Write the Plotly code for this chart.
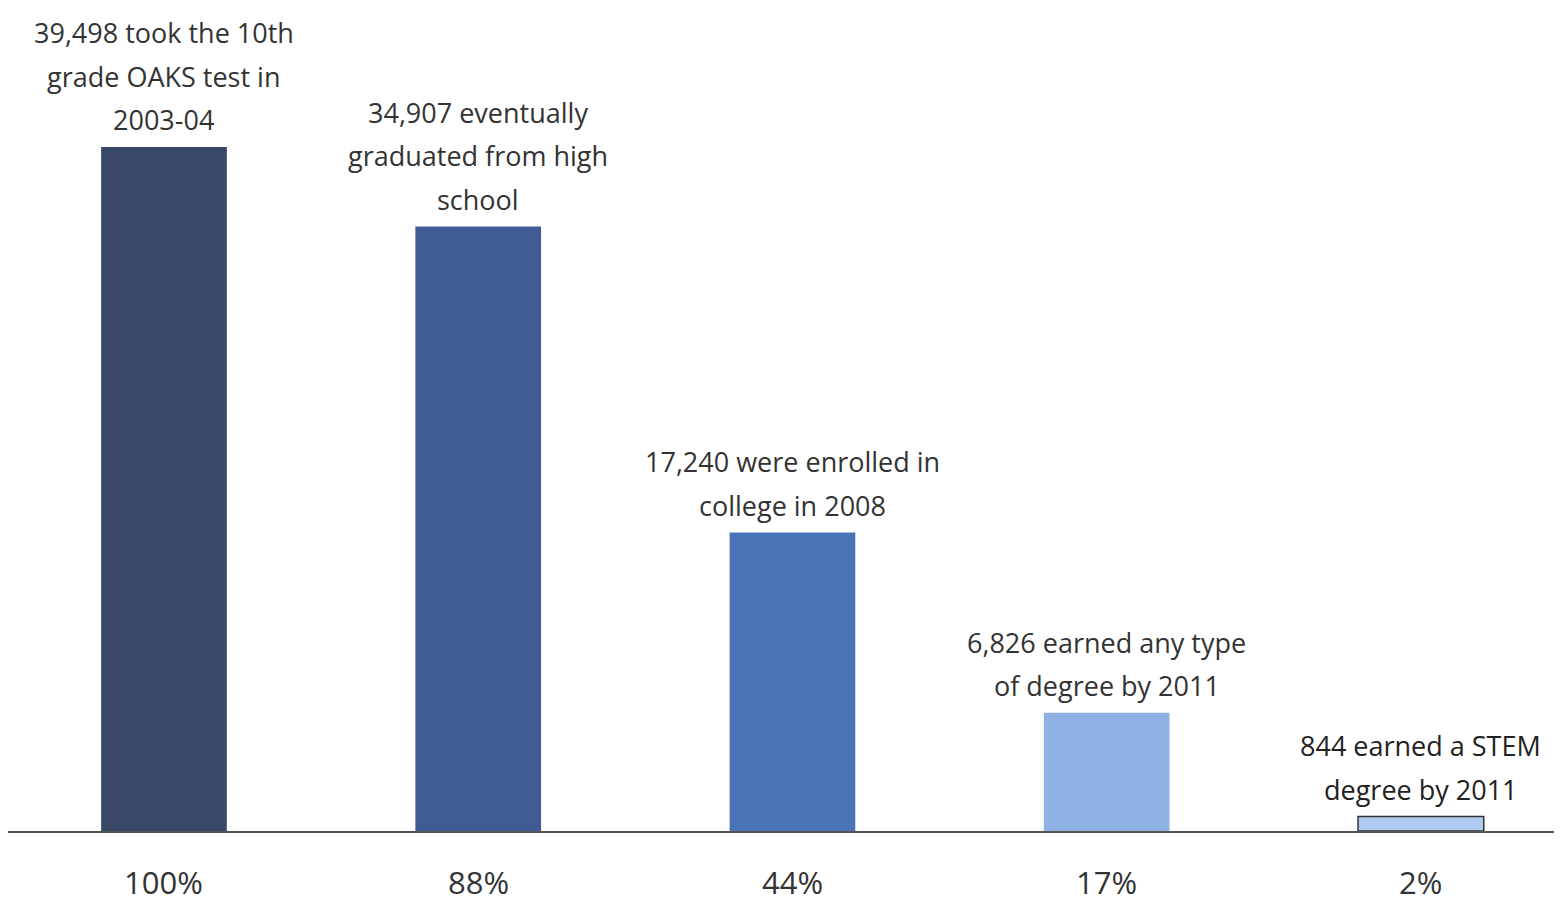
import plotly.graph_objects as go

stages = ["10th grade OAKS", "HS graduate", "College 2008", "Any degree 2011", "STEM degree 2011"]
counts = [39498, 34907, 17240, 6826, 844]
percent_labels = ["100%", "88%", "44%", "17%", "2%"]
label_lines = [
    ["39,498 took the 10th", "grade OAKS test in", "2003-04"],
    ["34,907 eventually", "graduated from high", "school"],
    ["17,240 were enrolled in", "college in 2008"],
    ["6,826 earned any type", "of degree by 2011"],
    ["844 earned a STEM", "degree by 2011"],
]

bar_colors = ["#394866", "#405a94", "#4b74b8", "#8db2e3", "#afcbf0"]
line_widths = [0, 0, 0, 0, 1.5]
text_color = "#333333"
font_family = "Open Sans, DejaVu Sans, sans-serif"

fig = go.Figure()
fig.add_trace(go.Bar(
    x=stages, y=counts, width=0.4,
    marker=dict(color=bar_colors, line=dict(color="#333333", width=line_widths)),
    hoverinfo="skip",
))

annotations = []
line_step = 43.5
gap = 27
for i, (stage, c, lines) in enumerate(zip(stages, counts, label_lines)):
    n = len(lines)
    last = i == len(stages) - 1
    for j, ln in enumerate(lines):
        annotations.append(dict(
            x=stage, y=c, xref="x", yref="y",
            text=ln, showarrow=False, yanchor="middle", xanchor="center",
            yshift=gap + (n - 1 - j) * line_step,
            font=dict(family=font_family, size=27, color="#222222" if last else text_color),
        ))
    annotations.append(dict(
        x=stage, y=0, xref="x", yref="paper",
        text=percent_labels[i], showarrow=False, yanchor="middle", xanchor="center",
        yshift=-51,
        font=dict(family=font_family, size=31, color=text_color),
    ))

fig.update_layout(
    width=1562, height=904,
    margin=dict(l=0, r=8, t=0, b=81, autoexpand=False),
    paper_bgcolor="white", plot_bgcolor="white",
    showlegend=False,
    annotations=annotations,
    xaxis=dict(range=[-0.4964, 4.449], showticklabels=False, ticks="",
               showline=True, linecolor="#555555", linewidth=2, showgrid=False, zeroline=False),
    yaxis=dict(range=[0, 47518], visible=False, showgrid=False, zeroline=False),
)

fig.write_html("out.html")
